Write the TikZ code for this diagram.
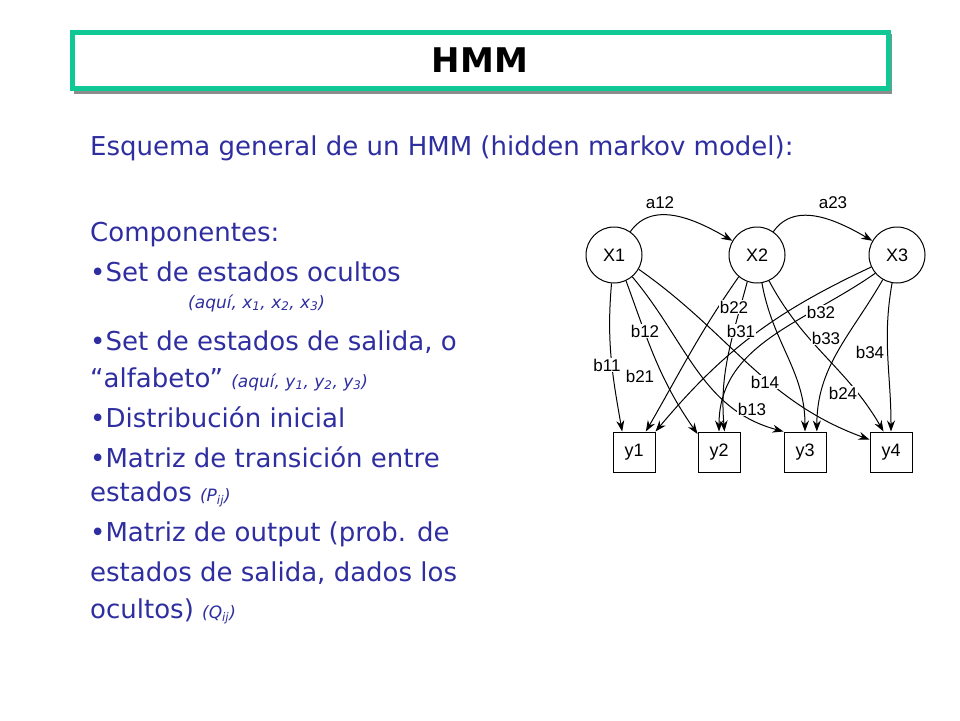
\documentclass[tikz,border=0pt]{standalone}
\usepackage{fontspec}
\setmainfont{DejaVu Sans}
\newfontfamily\diagfont{Liberation Sans}
\usetikzlibrary{arrows.meta}
\definecolor{txtblue}{HTML}{2E2EA0}
\definecolor{tgreen}{HTML}{10C896}
\newcommand{\sbs}[1]{\textsubscript{#1}}
\tikzset{
  body/.style={anchor=west,text=txtblue,font=\fontsize{26}{30}\selectfont,inner sep=0pt},
  sub/.style={anchor=west,text=txtblue,font=\itshape\fontsize{17}{20}\selectfont,inner sep=0pt},
  st/.style={circle,draw,fill=white,minimum size=56pt,font=\diagfont\fontsize{18}{20}\selectfont,inner sep=0pt,line width=1pt},
  ob/.style={draw,fill=white,minimum width=42pt,minimum height=40pt,font=\diagfont\fontsize{18}{20}\selectfont,inner sep=0pt,line width=1pt},
  lab/.style={fill=white,inner sep=1pt,font=\diagfont\fontsize{17}{20}\selectfont},
  ar/.style={-{Stealth[length=11pt,width=8pt]},line width=1pt}
}
\begin{document}
\begin{tikzpicture}[x=1pt,y=-1pt]
\useasboundingbox (0,0) rectangle (960,720);
% title
\fill[black!45] (74,34) rectangle (892,94);
\draw[tgreen,line width=5pt,fill=white] (72,32) rectangle (888,88);
\node (title) [font=\bfseries\fontsize{34}{38}\selectfont] at (480,60) {HMM};
% text
\node (t1) [body] at (90,148) {Esquema general de un HMM (hidden markov model):};
\node (t2) [body] at (90,235) {Componentes:};
\node (t3) [body] at (90,272) {•Set de estados ocultos};
\node (t4) [sub] at (188,303) {(aquí, x\sbs{1}, x\sbs{2}, x\sbs{3})};
\node (t5) [body] at (90,342) {•Set de estados de salida, o};
\node (t6) [body] at (90,379) {“alfabeto” {\itshape\fontsize{17}{20}\selectfont(aquí, y\sbs{1}, y\sbs{2}, y\sbs{3})}};
\node (t7) [body] at (90,417) {•Distribución inicial};
\node (t8) [body] at (90,457) {•Matriz de transición entre};
\node (t9) [body] at (90,494) {estados {\itshape\fontsize{17}{20}\selectfont(P\sbs{ij})}};
\node (t10) [body] at (90,534) {•Matriz de output (prob. de};
\node (t11) [body] at (90,573) {estados de salida, dados los};
\node (t12) [body] at (90,611) {ocultos) {\itshape\fontsize{17}{20}\selectfont(Q\sbs{ij})}};
% diagram
\node (x1) [st] at (614,255) {X1};
\node (x2) [st] at (757,255) {X2};
\node (x3) [st] at (897,255) {X3};
\node (y1) [ob] at (634,452) {y1};
\node (y2) [ob] at (719,452) {y2};
\node (y3) [ob] at (805,452) {y3};
\node (y4) [ob] at (891,452) {y4};
\draw[ar] (x1) to[out=55,in=150] (x2);
\draw[ar] (x2) to[out=55,in=150] (x3);
\draw[ar] (x1.-95) to[out=-95,in=100] (y1.120);
\draw[ar] (x1.-65) to[out=-70,in=125] (y2.140);
\draw[ar] (x1.-50) to[out=-50,in=165] (y3.north west);
\draw[ar] (x1.-30) to[out=-35,in=160] (y4.150);
\draw[ar] (x2.-130) to[out=-125,in=60] (y1.60);
\draw[ar] (x2.-110) to[out=-105,in=95] (y2.75);
\draw[ar] (x2.-80) to[out=-80,in=90] (y3.north);
\draw[ar] (x2.-65) to[out=-62,in=120] (y4.110);
\draw[ar] (x3.-155) to[out=-155,in=50] (y1.east|-y1.north);
\draw[ar] (x3.-140) to[out=-145,in=90] (y2.north);
\draw[ar] (x3.-120) to[out=-120,in=90] (y3.60);
\draw[ar] (x3.-100) to[out=-100,in=90] (y4.north);
\node (a12) [lab] at (660,203) {a12};
\node (a23) [lab] at (833,203) {a23};
\node (b11) [lab] at (607,365) {b11};
\node (b12) [lab] at (645,331) {b12};
\node (b21) [lab] at (640,376) {b21};
\node (b22) [lab] at (734,307) {b22};
\node (b31) [lab] at (741,331) {b31};
\node (b32) [lab] at (821,312) {b32};
\node (b33) [lab] at (826,338) {b33};
\node (b34) [lab] at (870,352) {b34};
\node (b14) [lab] at (765,382) {b14};
\node (b24) [lab] at (843,393) {b24};
\node (b13) [lab] at (752,409) {b13};
\end{tikzpicture}
\end{document}
